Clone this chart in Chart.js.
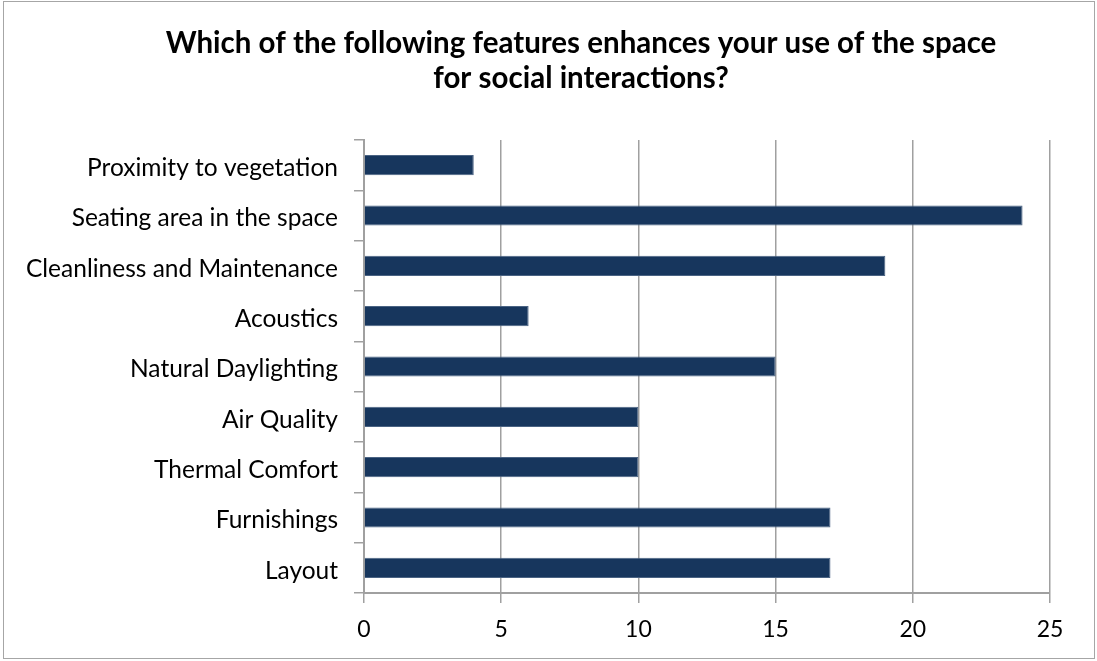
<!DOCTYPE html>
<html>
<head>
<meta charset="utf-8">
<script src="https://cdn.jsdelivr.net/npm/chart.js@4/dist/chart.umd.min.js"></script>
<style>
  body { margin: 0; background: #fff; }
  #wrap { position: relative; width: 1097px; height: 661px; }
  #frame { position: absolute; left: 3px; top: 1px; width: 1090px; height: 656px; border: 1px solid #a6a6a6; pointer-events: none; }
</style>
</head>
<body>
<div id="wrap">
  <canvas id="chart" width="1097" height="661"></canvas>
  <div id="frame"></div>
</div>
<script>
// survey answers, top to bottom as shown
const features = [
    'Proximity to vegetation',
    'Seating area in the space',
    'Cleanliness and Maintenance',
    'Acoustics',
    'Natural Daylighting',
    'Air Quality',
    'Thermal Comfort',
    'Furnishings',
    'Layout'
];
const responses = [4, 24, 19, 6, 15, 10, 10, 17, 17];
const xTicks = [0, 5, 10, 15, 20, 25];

const titleLines = [
    'Which of the following features enhances your use of the space',
    'for social interactions?'
];

const fontFamily = "Lato, 'Open Sans', sans-serif";
const gridGray = '#a0a0a0';

// title sits off-centre in the original, so draw it ourselves
const titlePlugin = {
    id: 'offsetTitle',
    afterDraw(chart) {
        const c = chart.ctx;
        c.save();
        c.fillStyle = '#000';
        c.font = `bold 29.5px ${fontFamily}`;
        c.textAlign = 'center';
        c.textBaseline = 'middle';
        titleLines.forEach((line, i) => c.fillText(line, 581, 43 + i * 35));
        c.restore();
    }
};

const ctx = document.getElementById('chart').getContext('2d');
new Chart(ctx, {
    type: 'bar',
    data: {
        labels: features,
        datasets: [{
            data: responses,
            backgroundColor: '#17365d',
            borderColor: '#4a6383',
            borderWidth: 1,
            barPercentage: 0.4,
            categoryPercentage: 1.0
        }]
    },
    options: {
        indexAxis: 'y',
        responsive: false,
        animation: false,
        layout: {
            padding: { left: 0, right: 47, top: 140, bottom: 0 }
        },
        scales: {
            x: {
                min: 0,
                max: 25,
                afterBuildTicks: (scale) => {
                    scale.ticks = xTicks.map(v => ({ value: v }));
                },
                afterFit: (scale) => { scale.height = 68; },
                grid: {
                    color: gridGray,
                    lineWidth: 1.5,
                    tickLength: 10,
                    drawTicks: true
                },
                border: { display: true, color: gridGray, width: 2 },
                ticks: {
                    color: '#000',
                    padding: 13,
                    font: { family: fontFamily, size: 23 }
                }
            },
            y: {
                afterFit: (scale) => { scale.width = 364; },
                grid: {
                    drawOnChartArea: false,
                    drawTicks: true,
                    tickLength: 10,
                    color: gridGray,
                    lineWidth: 1.5
                },
                border: { display: true, color: gridGray, width: 2 },
                ticks: {
                    color: '#000',
                    padding: 16,
                    labelOffset: 3,
                    font: { family: fontFamily, size: 24.5 }
                }
            }
        },
        plugins: {
            legend: { display: false },
            tooltip: { enabled: false },
            title: { display: false }
        }
    },
    plugins: [titlePlugin]
});
</script>
</body>
</html>
